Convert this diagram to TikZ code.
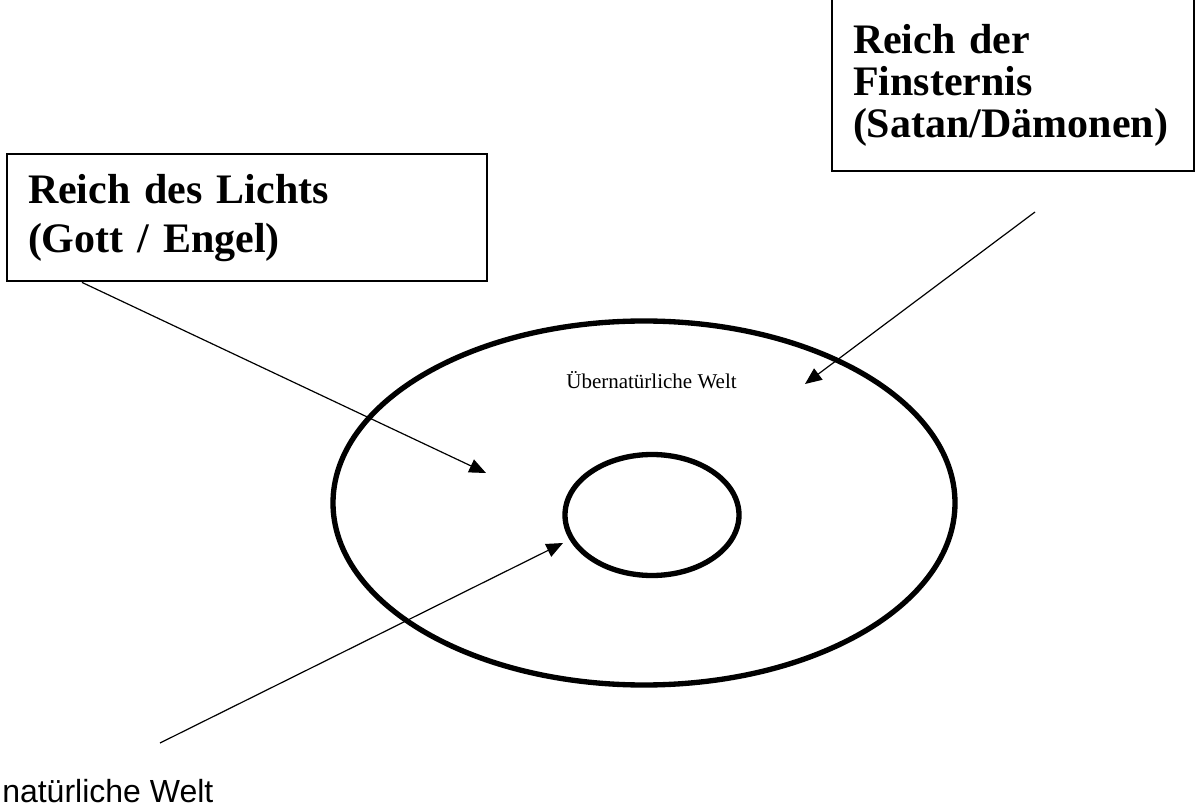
\documentclass[tikz,border=0pt]{standalone}
\usepackage{fontspec}
\setmainfont{Liberation Serif}
\setsansfont{Liberation Sans}
\usetikzlibrary{arrows.meta,shapes.geometric,calc}
\tikzset{
    kasten/.style={draw, line width=1.5pt, align=left, inner xsep=15.75pt, inner ysep=15pt,
        font=\bfseries\fontsize{31.5}{36.75}\selectfont},
    ring/.style={draw, ellipse, line width=4pt, inner sep=0pt},
    pfeil/.style={-{Triangle[length=12.5pt,width=10.5pt]}, line width=0.9pt},
}
\begin{document}
\begin{tikzpicture}[x=0.75pt,y=-0.75pt]
    \useasboundingbox (0,0) rectangle (1197,809);
    \node[kasten, anchor=north west, text width=328.5pt] (lichts) at (6,153) {Reich des Lichts\\(Gott / Engel)};
    \node[kasten, anchor=south west, text width=240pt, inner ysep=18.75pt,
        font=\bfseries\fontsize{31.5}{31.5}\selectfont] (finster) at (831,172)
        {Reich der\rule{0pt}{60pt}\\Finsternis\\(Satan/Dämonen)};
    \node[ring, minimum width=466.5pt, minimum height=273pt] (aussen) at (644,503) {};
    \node[ring, minimum width=130.5pt, minimum height=90.75pt] (innen) at (652,515) {};
    \node[anchor=base, inner sep=0pt, font=\fontsize{15.75}{18}\selectfont] (uebernat) at (651.5,389) {Übernatürliche Welt};
    \node[anchor=base west, inner sep=0pt, font=\sffamily\fontsize{24}{28}\selectfont] (natuerlich) at (2,802) {natürliche Welt};
    \coordinate (p1) at (486,473);
    \coordinate (q2) at (1035,212);
    \coordinate (p2) at (805,384);
    \coordinate (q3) at (160,743);
    \coordinate (p3) at (563,543);
    \draw[pfeil] ([xshift=57pt]lichts.south west) -- (p1);
    \draw[pfeil] (q2) -- (p2);
    \draw[pfeil] (q3) -- (p3);
\end{tikzpicture}
\end{document}
